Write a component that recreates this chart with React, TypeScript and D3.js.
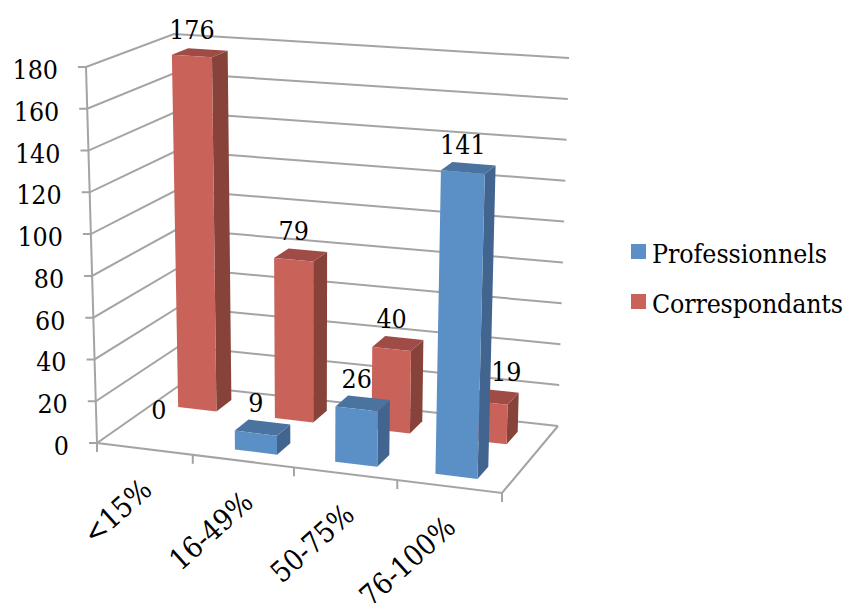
import React from "react";
import * as d3 from "d3";

const categories = ["<15%", "16-49%", "50-75%", "76-100%"];
const professionnels = [0, 9, 26, 141];
const correspondants = [176, 79, 40, 19];
const valueTicks = [0, 20, 40, 60, 80, 100, 120, 140, 160, 180];
const seriesNames = ["Professionnels", "Correspondants"];

const WIDTH = 845;
const HEIGHT = 603;
const SERIF = "'DejaVu Serif Condensed', 'Liberation Serif', serif";
const FONT_SIZE = 26.5;
const GRID = "#a4a4a4";

// Vertical edges of the 3D box, each as a value -> pixel scale.
const edge = (x0: number, x1: number, y0: number, y1: number) => ({
  x: d3.scaleLinear().domain([0, 180]).range([x0, x1]),
  y: d3.scaleLinear().domain([0, 180]).range([y0, y1]),
});
const frontLeft = edge(97, 86, 443, 67);
const backLeft = edge(180, 174, 385, 34);
const frontRight = edge(502, 513, 493, 98);
const backRight = edge(558, 569, 426, 58);

// Bilinear projection: u runs along the categories, v runs front to back.
const project = (u: number, v: number, value: number): [number, number] => {
  const lerp = d3.interpolateNumber;
  const lx = lerp(frontLeft.x(value), backLeft.x(value))(v);
  const ly = lerp(frontLeft.y(value), backLeft.y(value))(v);
  const rx = lerp(frontRight.x(value), backRight.x(value))(v);
  const ry = lerp(frontRight.y(value), backRight.y(value))(v);
  return [lerp(lx, rx)(u), lerp(ly, ry)(u)];
};

const band = d3.scaleBand<string>().domain(categories).range([-0.01, 0.99]).paddingInner(0.6).paddingOuter(0.3);
// Category ticks bunch slightly toward the far end of the axis.
const tickU = d3.scalePow().exponent(1.04).domain([0, categories.length]).range([0, 1]);
const pts = (p: [number, number][]) => p.map((d) => d.join(",")).join(" ");
const seg = d3.line();

const palette = [
  { front: "#5b90c6", side: "#41658f", top: "#4a739f" },
  { front: "#c9635a", side: "#87433a", top: "#a04c46" },
];
const depthBands: [number, number][] = [
  [0.15, 0.335],
  [0.67, 0.86],
];
// Series offset and width along the category axis.
const rowShift = [-0.002, 0.001];
const rowWidth = [0.105, 0.099];

const uRange = (cat: string, row: number): [number, number] => {
  const u0 = band(cat)! + rowShift[row];
  return [u0, u0 + rowWidth[row]];
};

function Bar({ cat, value, row }: { cat: string; value: number; row: number }) {
  if (value === 0) return null;
  const [u0, u1] = uRange(cat, row);
  const [v0, v1] = depthBands[row];
  const c = palette[row];
  const fb = project(u0, v0, 0);
  const fr = project(u1, v0, 0);
  const br = project(u1, v1, 0);
  const tl = project(u0, v0, value);
  const tr = project(u1, v0, value);
  const tbr = project(u1, v1, value);
  const tbl = project(u0, v1, value);
  return (
    <g>
      <polygon points={pts([fr, br, tbr, tr])} fill={c.side} />
      <polygon points={pts([tl, tr, tbr, tbl])} fill={c.top} />
      <polygon points={pts([fb, fr, tr, tl])} fill={c.front} />
    </g>
  );
}

function ValueLabel({ cat, value, row, dx }: { cat: string; value: number; row: number; dx: number }) {
  const [u0, u1] = uRange(cat, row);
  const [v0, v1] = depthBands[row];
  const [x] = project((u0 + u1) / 2, v0, value);
  const [, y] = project(u1, v1, value);
  return (
    <text x={x + dx} y={y - 12} textAnchor="middle" fontFamily={SERIF} fontSize={FONT_SIZE} fill="#000">
      {value}
    </text>
  );
}

export default function App() {
  return (
    <svg
      width={WIDTH}
      height={HEIGHT}
      viewBox={`0 0 ${WIDTH} ${HEIGHT}`}
      style={{ position: "absolute", left: 0, top: 0, display: "block", background: "#fff" }}
    >
      {/* Walls: left and back gridlines */}
      <g fill="none" stroke={GRID} strokeWidth={2}>
        {valueTicks.map((t) => (
          <path
            key={t}
            d={
              seg([
                [frontLeft.x(t) - 8, frontLeft.y(t)],
                [frontLeft.x(t), frontLeft.y(t)],
                [backLeft.x(t), backLeft.y(t)],
                [backRight.x(t), backRight.y(t)],
              ])!
            }
          />
        ))}
        <path d={seg([[frontLeft.x(0), frontLeft.y(0)], [frontLeft.x(180), frontLeft.y(180)]])!} />
        <path
          d={
            seg([
              [frontLeft.x(0), frontLeft.y(0)],
              [frontRight.x(0), frontRight.y(0)],
              [backRight.x(0), backRight.y(0)],
            ])!
          }
        />
        {d3.range(categories.length + 1).map((i) => {
          const [x, y] = project(tickU(i), 0, 0);
          return <path key={i} d={seg([[x, y], [x, y + 9]])!} />;
        })}
      </g>

      {/* Value axis labels */}
      {valueTicks.map((t) => (
        <text
          key={t}
          x={frontLeft.x(t) - 28}
          y={frontLeft.y(t) + 12}
          textAnchor="end"
          fontFamily={SERIF}
          fontSize={FONT_SIZE}
          fill="#000"
        >
          {t}
        </text>
      ))}

      {/* Bars, back row first */}
      {categories.map((c, i) => (
        <Bar key={c} cat={c} value={correspondants[i]} row={1} />
      ))}
      {categories.map((c, i) => (
        <Bar key={c} cat={c} value={professionnels[i]} row={0} />
      ))}

      {/* Data labels */}
      {categories.map((c, i) => (
        <ValueLabel key={c} cat={c} value={correspondants[i]} row={1} dx={i === 3 ? 18 : 0} />
      ))}
      {categories.map((c, i) => (
        <ValueLabel key={c} cat={c} value={professionnels[i]} row={0} dx={i === 0 ? 3 : 0} />
      ))}

      {/* Category labels */}
      {categories.map((c, i) => {
        const [x, y] = project((i + 0.5) / categories.length, 0, 0);
        return (
          <text
            key={c}
            transform={`translate(${x + 6},${y + 43}) rotate(-42)`}
            textAnchor="end"
            fontFamily={SERIF}
            fontSize={29}
            fill="#000"
          >
            {c}
          </text>
        );
      })}

      {/* Legend */}
      {seriesNames.map((name, i) => (
        <g key={name} transform={`translate(631,${244 + i * 50})`}>
          <rect width={15} height={15} fill={palette[i].front} />
          <text
            x={21}
            y={19}
            fontFamily={SERIF}
            fontSize={FONT_SIZE}
            fill="#000"
            textLength={i === 0 ? 175 : 191}
            lengthAdjust="spacing"
          >
            {name}
          </text>
        </g>
      ))}
    </svg>
  );
}
